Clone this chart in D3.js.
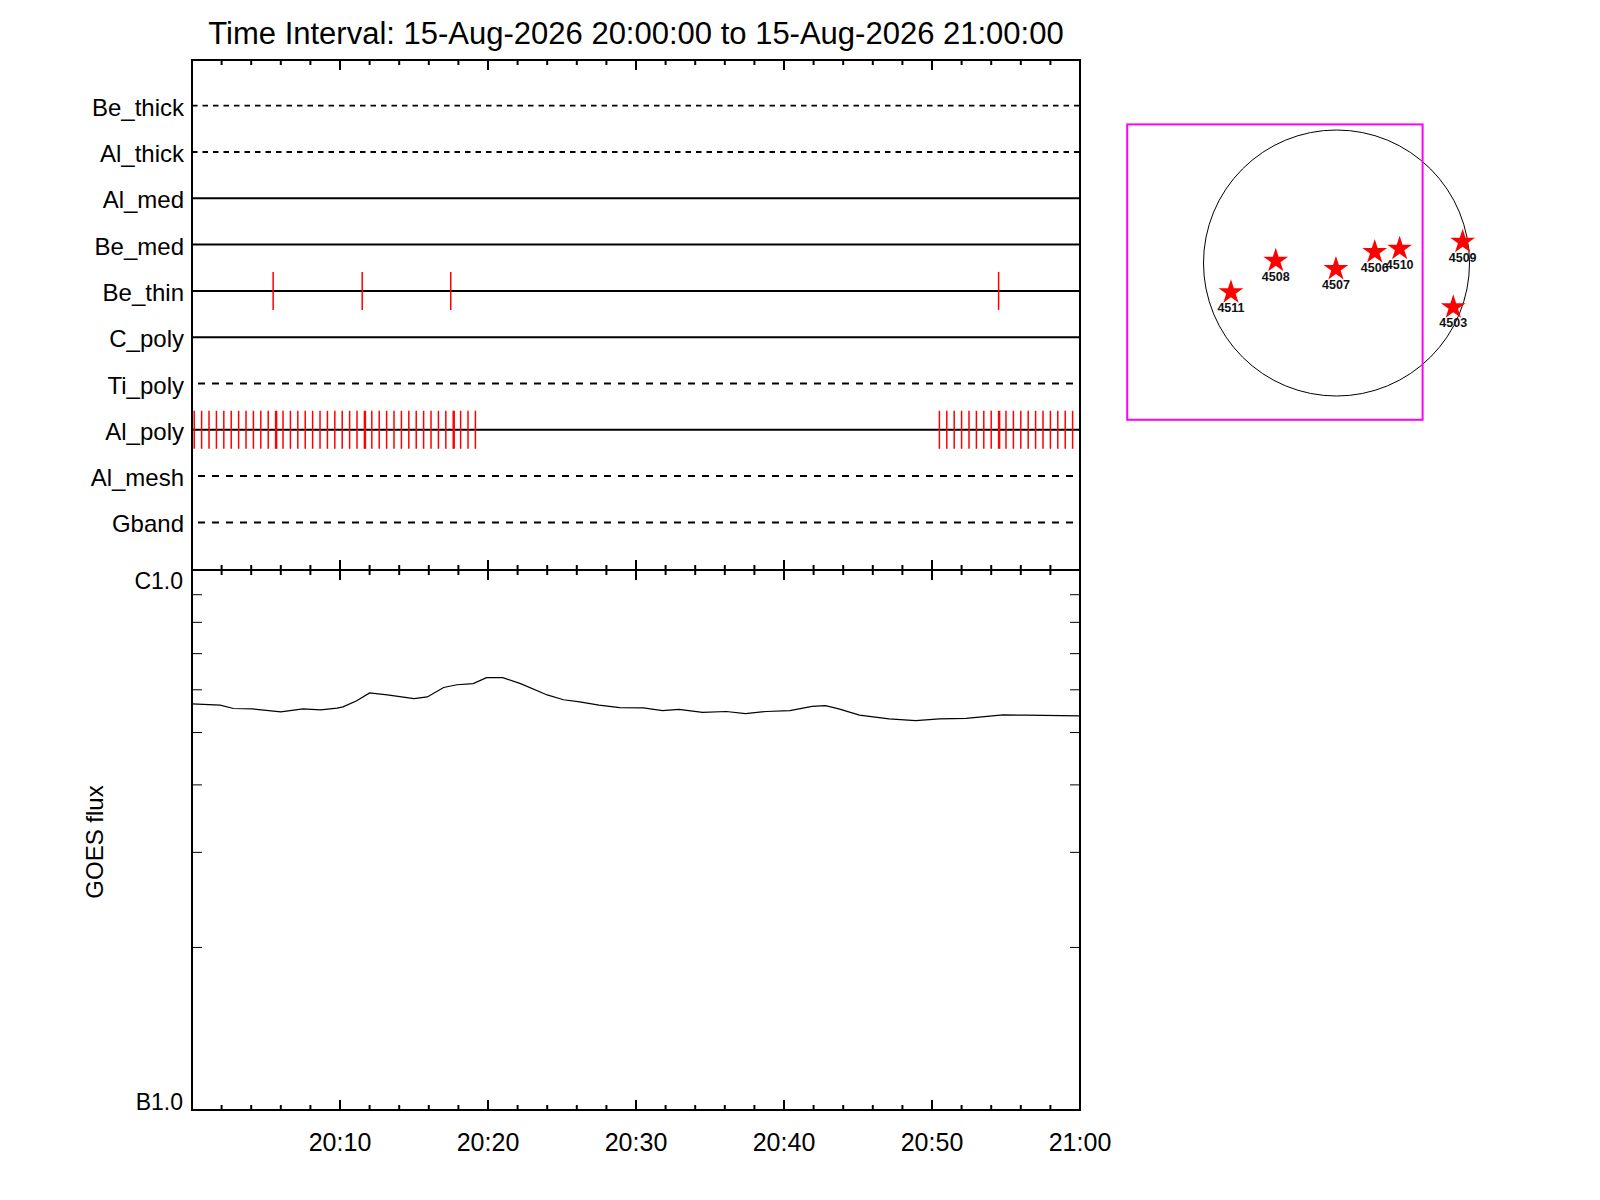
<!DOCTYPE html>
<html>
<head>
<meta charset="utf-8">
<script src="https://cdn.jsdelivr.net/npm/d3@7"></script>
<style>
  body { margin: 0; background: #fff; }
  text { font-family: "Liberation Sans", Arial, sans-serif; }
</style>
</head>
<body>
<svg id="mainsvg" width="1600" height="1200"></svg>
<script>
const title = 'Time Interval: 15-Aug-2026 20:00:00 to 15-Aug-2026 21:00:00'

// filter rows, top to bottom
const filters = ['Be_thick','Al_thick','Al_med','Be_med','Be_thin','C_poly','Ti_poly','Al_poly','Al_mesh','Gband']
const dashedThin = ['Be_thick','Al_thick']
const dashedWide = ['Ti_poly','Al_mesh','Gband']

// exposure times, seconds after 20:00:00
const beThinTimes = [329, 690, 1049, 3270]
const alPolyTimes = [9,39,69,99,129,159,189,219,249,279,309,339,343,369,399,429,459,489,519,549,
  579,609,639,669,699,703,729,759,789,819,849,879,909,939,969,999,1029,1059,1063,1089,1119,1149,
  3030,3060,3090,3120,3150,3180,3210,3240,3270,3274,3300,3330,3360,3390,3420,3450,3480,3510,3540,3570]

// time axis
const majorTicks = [0, 600, 1200, 1800, 2400, 3000, 3600]
const tickLabels = ['', '20:10', '20:20', '20:30', '20:40', '20:50', '21:00']
const minorTicks = [120,240,360,480,720,840,960,1080,1320,1440,1560,1680,1920,2040,2160,2280,
  2520,2640,2760,2880,3120,3240,3360,3480]

// GOES light curve: minutes after 20:00, flux in W/m^2
const goesMin = [0,1.9,2.8,4.1,6.0,7.5,8.7,9.8,10.2,11.1,12.0,13.2,15.0,15.9,17.0,17.9,19.0,19.9,21.0,22.2,
  24.0,25.1,26.2,27.5,28.9,30.5,31.8,32.9,34.5,36.1,37.4,38.8,40.4,41.9,42.8,43.7,45.1,47.1,48.9,50.5,
  52.3,54.8,56.3,60]
const goesFlux = [5.65,5.62,5.54,5.53,5.46,5.53,5.51,5.55,5.58,5.72,5.92,5.87,5.78,5.82,6.06,6.13,6.16,6.32,6.32,6.16,
  5.87,5.75,5.70,5.62,5.56,5.555,5.49,5.52,5.45,5.47,5.42,5.47,5.49,5.59,5.61,5.53,5.385,5.30,5.26,5.30,
  5.31,5.39,5.385,5.37].map(v => v * 1e-7)
const fluxMinor = [2e-7,3e-7,4e-7,5e-7,6e-7,7e-7,8e-7,9e-7]
const fluxLabels = [[1e-6,'C1.0'],[1e-7,'B1.0']]

// active regions on the disk, arcsec
const arNums = ['4511','4508','4507','4506','4510','4509','4503']
const arX = [-754,-434,-4,273,451,901,834]
const arY = [-209,16,-43,79,102,152,-316]
const sunRadius = 950
const fovCenter = [-440, -65]
const fovSize = 2110

const svg = d3.select('#mainsvg')

const left = 192, right = 1080
const topY = 60, midY = 570, botY = 1110

const x = d3.scaleLinear().domain([0, 3600]).range([left, right])
const row = d3.scalePoint().domain(filters).range([105.7, 522.4])
const y = d3.scaleLog().domain([1e-7, 1e-6]).range([botY, midY])

// title
svg.append('text')
  .attr('x', (left + right) / 2).attr('y', 44)
  .attr('text-anchor', 'middle')
  .attr('font-size', 31)
  .text(title)

// filter rows
filters.forEach(f => {
  let line = svg.append('line')
    .attr('x1', left).attr('x2', right)
    .attr('y1', row(f)).attr('y2', row(f))
    .attr('stroke', 'black')
  if (dashedThin.includes(f)) line.attr('stroke-width', 1.8).attr('stroke-dasharray', '5.5,5')
  else if (dashedWide.includes(f)) line.attr('stroke-width', 2).attr('stroke-dasharray', '7,7').attr('stroke-dashoffset', -6)
  else line.attr('stroke-width', 2)

  svg.append('text')
    .attr('x', 184).attr('y', row(f) + 10)
    .attr('text-anchor', 'end')
    .attr('font-size', 24)
    .text(f)
})

function drawExposures(times, f) {
  svg.append('g').selectAll('line').data(times).join('line')
    .attr('x1', d => x(d)).attr('x2', d => x(d))
    .attr('y1', row(f) - 19).attr('y2', row(f) + 19)
    .attr('stroke', 'red')
    .attr('stroke-width', 1.5)
}
drawExposures(beThinTimes, 'Be_thin')
drawExposures(alPolyTimes, 'Al_poly')

// GOES curve
const line = d3.line()
  .x((d, i) => x(goesMin[i] * 60))
  .y(d => y(d))
svg.append('path')
  .datum(goesFlux)
  .attr('d', line)
  .attr('fill', 'none')
  .attr('stroke', 'black')
  .attr('stroke-width', 1.2)

// time ticks, inward on every horizontal edge
function timeTicks(yPos, dir) {
  const g = svg.append('g')
  g.selectAll('.maj').data(majorTicks).join('line')
    .attr('x1', d => x(d)).attr('x2', d => x(d))
    .attr('y1', yPos).attr('y2', yPos + dir * 10)
    .attr('stroke', 'black').attr('stroke-width', 2)
  g.selectAll('.min').data(minorTicks).join('line')
    .attr('x1', d => x(d)).attr('x2', d => x(d))
    .attr('y1', yPos).attr('y2', yPos + dir * 5)
    .attr('stroke', 'black').attr('stroke-width', 2)
}
timeTicks(topY, 1)
timeTicks(midY, -1)
timeTicks(midY, 1)
timeTicks(botY, -1)

svg.append('g').selectAll('text').data(majorTicks).join('text')
  .attr('x', d => x(d)).attr('y', botY + 41)
  .attr('text-anchor', 'middle')
  .attr('font-size', 25)
  .text((d, i) => tickLabels[i])

// flux ticks on both vertical edges of the lower panel
svg.append('g').selectAll('line').data(fluxMinor).join('line')
  .attr('x1', left).attr('x2', left + 10)
  .attr('y1', d => y(d)).attr('y2', d => y(d))
  .attr('stroke', 'black').attr('stroke-width', 1)
svg.append('g').selectAll('line').data(fluxMinor).join('line')
  .attr('x1', right).attr('x2', right - 10)
  .attr('y1', d => y(d)).attr('y2', d => y(d))
  .attr('stroke', 'black').attr('stroke-width', 1)

svg.append('text').attr('x', 183).attr('y', y(fluxLabels[0][0]) + 19)
  .attr('text-anchor', 'end').attr('font-size', 23).text(fluxLabels[0][1])
svg.append('text').attr('x', 183).attr('y', y(fluxLabels[1][0]))
  .attr('text-anchor', 'end').attr('font-size', 23).text(fluxLabels[1][1])

svg.append('text')
  .attr('transform', `translate(103,842) rotate(-90)`)
  .attr('text-anchor', 'middle')
  .attr('font-size', 24)
  .text('GOES flux')

// frames
svg.append('rect')
  .attr('x', left).attr('y', topY).attr('width', right - left).attr('height', midY - topY)
  .attr('fill', 'none').attr('stroke', 'black').attr('stroke-width', 2)
svg.append('rect')
  .attr('x', left).attr('y', midY).attr('width', right - left).attr('height', botY - midY)
  .attr('fill', 'none').attr('stroke', 'black').attr('stroke-width', 2)

// solar disk with the field of view
const sx = d3.scaleLinear().domain([-sunRadius, sunRadius]).range([1203.5, 1469.5])
const sy = d3.scaleLinear().domain([-sunRadius, sunRadius]).range([396, 130])

svg.append('circle')
  .attr('cx', sx(0)).attr('cy', sy(0)).attr('r', sx(sunRadius) - sx(0))
  .attr('fill', 'none').attr('stroke', 'black').attr('stroke-width', 1)

svg.append('rect')
  .attr('x', sx(fovCenter[0] - fovSize / 2))
  .attr('y', sy(fovCenter[1] + fovSize / 2))
  .attr('width', sx(fovSize) - sx(0))
  .attr('height', sx(fovSize) - sx(0))
  .attr('fill', 'none').attr('stroke', '#ff00ff').attr('stroke-width', 2)

const star = d3.symbol().type(d3.symbolStar).size(190)
const ar = svg.append('g').selectAll('g').data(arNums).join('g')
  .attr('transform', (d, i) => `translate(${sx(arX[i])},${sy(arY[i])})`)
ar.append('path').attr('d', star).attr('fill', 'red')
ar.append('text')
  .attr('y', 20)
  .attr('text-anchor', 'middle')
  .attr('font-size', 12.5)
  .attr('font-weight', 'bold')
  .attr('fill', '#111')
  .text(d => d)
</script>
</body>
</html>
